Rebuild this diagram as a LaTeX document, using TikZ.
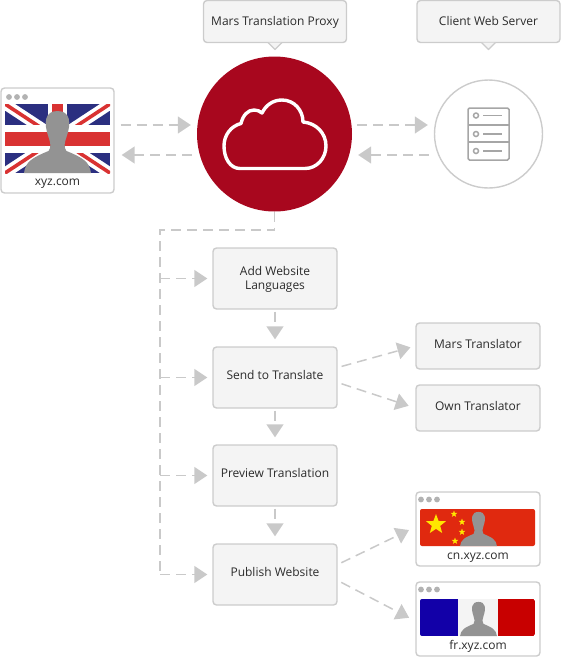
\documentclass[tikz,border=0pt]{standalone}
\usepackage{fontspec}
\setmainfont{Open Sans}
\usepackage{tikz}
\usetikzlibrary{arrows.meta,shapes.geometric}
\definecolor{marsred}{HTML}{A8071E}
\definecolor{edgegrey}{HTML}{CCCCCC}
\definecolor{boxgrey}{HTML}{F4F4F4}
\definecolor{flowgrey}{HTML}{C9C9C9}
\definecolor{textgrey}{HTML}{2B2B2B}
\definecolor{ukred}{HTML}{D93232}
\definecolor{ukblue}{HTML}{2B2F80}
\definecolor{cnred}{HTML}{E0290F}
\definecolor{cnstar}{HTML}{FFE600}
\definecolor{frblue}{HTML}{1200A8}
\definecolor{frred}{HTML}{C80000}

\begin{document}
\begin{tikzpicture}[
    x=1pt, y=-1pt,
    font=\fontsize{12}{14}\selectfont,
    text=textgrey,
    box/.style={rectangle, draw=edgegrey, line width=1.4pt, rounded corners=3.5pt, fill=boxgrey, align=center, inner sep=0pt},
    twoline/.style={box, minimum width=124pt, minimum height=61pt},
    stepbox/.style={twoline, text height=8pt, text depth=4.4pt},
    sidebox/.style={box, minimum width=124pt, minimum height=46pt, text height=9pt, text depth=3.4pt},
    bubble/.style={box, minimum width=143pt, minimum height=42pt, text height=9pt, text depth=1pt},
    window/.style={box, fill=white, minimum width=124pt, minimum height=74pt},
    tail/.style={draw=edgegrey, line width=1.4pt, fill=boxgrey, line join=round},
    dashes/.style={draw=flowgrey, line width=1.5pt, dash pattern=on 10pt off 6pt},
    flow/.style={dashes, -{Triangle[length=13pt,width=17pt,fill=flowgrey]}},
    icon/.style={draw=gray!70, line width=1.5pt},
    flagstar/.style={star, star points=5, star point ratio=2.4, fill=cnstar, inner sep=0pt},
    person/.pic={
        \fill[gray!85] (-33.5,0) .. controls (-32,-11) and (-26,-15) .. (-9,-22)
            .. controls (-6,-26) and (-7,-30) .. (-9,-36)
            .. controls (-14,-50) and (-13,-62) .. (0,-62)
            .. controls (13,-62) and (14,-50) .. (9,-36)
            .. controls (7,-30) and (6,-26) .. (9,-22)
            .. controls (26,-15) and (32,-11) .. (33.5,0) -- cycle;
    },
    windowdots/.pic={
        \foreach \dotx in {0,8,16} \fill[gray!60] (\dotx,0) circle (2.9);
    }
]
\useasboundingbox (0,0) rectangle (561,657);

\node[bubble] (Proxy) at (275,21.5) {Mars Translation Proxy};
\draw[tail] ([xshift=-7pt,yshift=.7pt]Proxy.south) -- ++(7,7) -- ++(7,-7);
\node[bubble] (Client) at (488.5,21.5) {Client Web Server};
\draw[tail] ([xshift=-7pt,yshift=.7pt]Client.south) -- ++(7,7) -- ++(7,-7);

\node[circle, fill=marsred, minimum size=155pt, inner sep=0pt] (Mars) at (274.5,134) {};
\draw[white, line width=3.4pt, line join=round] (240,168.5)
    .. controls (230,168.5) and (224,158) .. (224,146)
    .. controls (224,135) and (231,126) .. (241,123.5)
    .. controls (243,115) and (248,110) .. (254,110)
    .. controls (257,110) and (260,111) .. (262,113)
    .. controls (266,105) and (273,100) .. (282,100)
    .. controls (294,100) and (303,110) .. (303,122)
    .. controls (316,123) and (326,133) .. (326,146)
    .. controls (326,158) and (317,168.5) .. (305,168.5) -- cycle;

\node[circle, draw=edgegrey, line width=1.4pt, fill=white, minimum size=108pt, inner sep=0pt] (Server) at (488.5,134) {};
\draw[icon, rounded corners=1.5pt] (468,108) rectangle (509,160);
\draw[icon] (468,125) -- (509,125) (468,142) -- (509,142);
\foreach \rowy in {115.5,134,151} {
    \draw[icon] (476,\rowy) circle (2.5);
    \draw[icon] (483,\rowy) -- (502,\rowy);
}

\node[box, fill=white, minimum width=113pt, minimum height=105pt] (Site) at (57.5,140.5) {};
\pic at (9,97) {windowdots};
\begin{scope}
\clip (5,104) rectangle (110,173);
\fill[ukblue] (5,104) rectangle (110,173);
\draw[white, line width=11pt] (5,104) -- (110,173) (5,173) -- (110,104);
\draw[ukred, line width=3.6pt] (5,104) -- (110,173) (5,173) -- (110,104);
\draw[white, line width=19pt] (57.5,104) -- (57.5,173);
\draw[white, line width=28pt] (5,139) -- (110,139);
\draw[ukred, line width=11pt] (57.5,104) -- (57.5,173);
\draw[ukred, line width=14.5pt] (5,139) -- (110,139);
\end{scope}
\pic at (57.5,173) {person};
\node (SiteName) at (57.5,184) {xyz.com};

\node[twoline] (Add) at (275,278.5) {\rule{0pt}{11.8pt}Add Website\\Languages};
\node[stepbox] (Send) at (275,377.5) {Send to Translate};
\node[stepbox] (Preview) at (275,475.5) {Preview Translation};
\node[stepbox] (Publish) at (275,574.5) {Publish Website};

\node[sidebox] (Translator) at (478,346) {Mars Translator};
\node[sidebox] (Own) at (478,408) {Own Translator};

\node[window] (China) at (478,529) {};
\pic at (421,499.5) {windowdots};
\fill[cnred, rounded corners=2pt] (420,509) rectangle (535,546);
\node[flagstar, minimum size=21pt] (BigStar) at (436,524.5) {};
\node[flagstar, minimum size=7pt] (StarA) at (454,514) {};
\node[flagstar, minimum size=7pt] (StarB) at (462,522) {};
\node[flagstar, minimum size=7pt] (StarC) at (462,532) {};
\node[flagstar, minimum size=7pt] (StarD) at (455,541) {};
\pic[scale=.55] at (478.5,546) {person};
\node (ChinaName) at (478,558) {cn.xyz.com};

\node[window] (France) at (478,619) {};
\pic at (421,589.5) {windowdots};
\begin{scope}
\clip[rounded corners=2pt] (420,599) rectangle (535,636);
\fill[frblue] (420,599) rectangle (458,636);
\fill[boxgrey] (458,599) rectangle (498,636);
\fill[frred] (498,599) rectangle (535,636);
\end{scope}
\pic[scale=.55] at (478.5,636) {person};
\node (FranceName) at (478,646) {fr.xyz.com};

\coordinate (upper) at (0,125);
\coordinate (lower) at (0,155);
\draw[flow, shorten <=6pt, shorten >=6pt] (Site.east |- upper) -- (Mars.west |- upper);
\draw[flow, shorten <=5pt, shorten >=7pt] (Mars.west |- lower) -- (Site.east |- lower);
\draw[flow, shorten <=5pt, shorten >=6pt] (Mars.east |- upper) -- (Server.west |- upper);
\draw[flow, shorten <=5pt, shorten >=6pt] (Server.west |- lower) -- (Mars.east |- lower);

\coordinate (trunk) at (160,230);
\draw[dashes] (Mars.south) |- (trunk) -- (trunk |- Publish.west);
\foreach \stepname in {Add,Send,Preview,Publish}
    \draw[flow, shorten >=5pt] (trunk |- \stepname.west) -- (\stepname.west);

\draw[flow, shorten <=2pt, shorten >=7pt] (Add) -- (Send);
\draw[flow, shorten <=2pt, shorten >=7pt] (Send) -- (Preview);
\draw[flow, shorten <=2pt, shorten >=7pt] (Preview) -- (Publish);

\draw[flow, shorten <=4pt, shorten >=5pt] ([yshift=10pt]Send.east) -- (Translator.west);
\draw[flow, shorten <=4pt, shorten >=7pt] ([yshift=-5pt]Send.east) -- (Own.west);
\draw[flow, shorten <=4pt, shorten >=7pt] ([yshift=10pt]Publish.east) -- ([yshift=2pt]China.west);
\draw[flow, shorten <=4pt, shorten >=7pt] ([yshift=-6pt]Publish.east) -- ([yshift=-2pt]France.west);
\end{tikzpicture}
\end{document}
